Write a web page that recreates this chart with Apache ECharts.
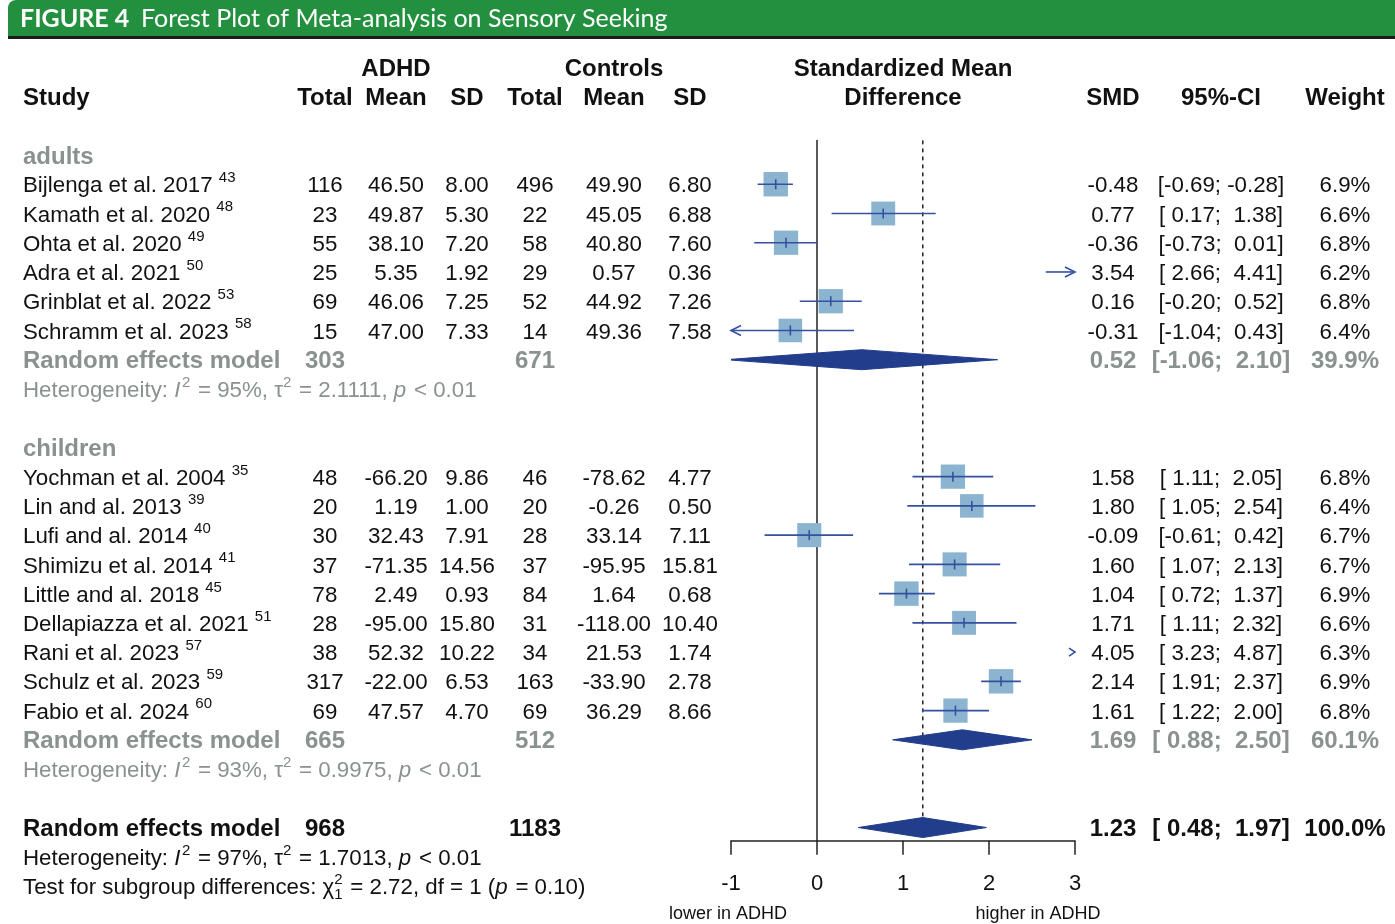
<!DOCTYPE html>
<html>
<head>
<meta charset="utf-8">
<script src="https://cdn.jsdelivr.net/npm/echarts@6/dist/echarts.min.js"></script>
<style>
  html, body { margin: 0; padding: 0; background: #fff; }
  #chart { width: 1395px; height: 924px; }
</style>
</head>
<body>
<div id="chart"></div>
<script>
// study level data
const studyNames = ['Bijlenga et al. 2017', 'Kamath et al. 2020', 'Ohta et al. 2020', 'Adra et al. 2021',
  'Grinblat et al. 2022', 'Schramm et al. 2023', 'Yochman et al. 2004', 'Lin and al. 2013', 'Lufi and al. 2014',
  'Shimizu et al. 2014', 'Little and al. 2018', 'Dellapiazza et al. 2021', 'Rani et al. 2023',
  'Schulz et al. 2023', 'Fabio et al. 2024'];
const studyRefs = ['43', '48', '49', '50', '53', '58', '35', '39', '40', '41', '45', '51', '57', '59', '60'];
const adhdN = [116, 23, 55, 25, 69, 15, 48, 20, 30, 37, 78, 28, 38, 317, 69];
const adhdMean = [46.50, 49.87, 38.10, 5.35, 46.06, 47.00, -66.20, 1.19, 32.43, -71.35, 2.49, -95.00, 52.32, -22.00, 47.57];
const adhdSD = [8.00, 5.30, 7.20, 1.92, 7.25, 7.33, 9.86, 1.00, 7.91, 14.56, 0.93, 15.80, 10.22, 6.53, 4.70];
const ctlN = [496, 22, 58, 29, 52, 14, 46, 20, 28, 37, 84, 31, 34, 163, 69];
const ctlMean = [49.90, 45.05, 40.80, 0.57, 44.92, 49.36, -78.62, -0.26, 33.14, -95.95, 1.64, -118.00, 21.53, -33.90, 36.29];
const ctlSD = [6.80, 6.88, 7.60, 0.36, 7.26, 7.58, 4.77, 0.50, 7.11, 15.81, 0.68, 10.40, 1.74, 2.78, 8.66];
const smd = [-0.48, 0.77, -0.36, 3.54, 0.16, -0.31, 1.58, 1.80, -0.09, 1.60, 1.04, 1.71, 4.05, 2.14, 1.61];
const ciLow = [-0.69, 0.17, -0.73, 2.66, -0.20, -1.04, 1.11, 1.05, -0.61, 1.07, 0.72, 1.11, 3.23, 1.91, 1.22];
const ciHigh = [-0.28, 1.38, 0.01, 4.41, 0.52, 0.43, 2.05, 2.54, 0.42, 2.13, 1.37, 2.32, 4.87, 2.37, 2.00];
const weight = [6.9, 6.6, 6.8, 6.2, 6.8, 6.4, 6.8, 6.4, 6.7, 6.7, 6.9, 6.6, 6.3, 6.9, 6.8];

// subgroups + overall (last entry)
const groupNames = ['adults', 'children'];
const groupSizes = [6, 9];
const pooledN1 = [303, 665, 968];
const pooledN2 = [671, 512, 1183];
const pooledSMD = [0.52, 1.69, 1.23];
const pooledLow = [-1.06, 0.88, 0.48];
const pooledHigh = [2.10, 2.50, 1.97];
const pooledWeight = [39.9, 60.1, 100.0];
const hetI2 = [95, 93, 97];
const hetTau2 = ['2.1111', '0.9975', '1.7013'];
const hetP = ['< 0.01', '< 0.01', '< 0.01'];
const subgroupChi2 = '2.72', subgroupDf = 1, subgroupP = '0.10';

const xTicks = [-1, 0, 1, 2, 3];
const axisNotes = ['lower in ADHD', 'higher in ADHD'];

// styles
const FONT = 'Liberation Sans';
const BLACK = '#111';
const GRAY = '#8a9290';
const BOX_COLOR = '#8ab4cf';
const CI_COLOR = '#3451a0';
const DIAMOND_COLOR = '#213d8c';
const BOX_K = 9.3;       // square side = BOX_K * sqrt(weight)
const DIAMOND_H = 10;    // half height of diamonds
const TEXT_DY = 2;       // text sits a touch below row centre
const COL = { study: 23, n1: 325, mean1: 396, sd1: 467, n2: 535, mean2: 614, sd2: 690,
  plot: 903, smd: 1113, ci: 1221, w: 1345 };

const measureCtx = document.createElement('canvas').getContext('2d');
function textW(t, size, bold, italic) {
  measureCtx.font = (italic ? 'italic ' : '') + (bold ? 'bold ' : '') + size + 'px "' + FONT + '"';
  return measureCtx.measureText(t).width;
}

const f2 = v => v.toFixed(2);
const pad5 = v => { let s = v.toFixed(2); while (s.length < 5) s = ' ' + s; return s; };
const fmtCI = (lo, hi) => '[' + pad5(lo) + '; ' + pad5(hi) + ']';
const cell = (x, t, extra) => Object.assign({ x: x, align: 'center', segs: [{ t: t }] }, extra || {});
const hetSegs = i => [
  { t: 'Heterogeneity: ' }, { t: 'I', italic: true }, { t: '2', small: true, sup: true },
  { t: ' = ' + hetI2[i] + '%, ' }, { t: 'τ' }, { t: '2', small: true, sup: true },
  { t: ' = ' + hetTau2[i] + ', ' }, { t: 'p', italic: true }, { t: ' ' + hetP[i] }
];

// build table rows, study marks and diamonds
const tableRows = [];
const studyData = [];
const diamondData = [];

tableRows.push({ row: -3, cells: [
  cell(COL.mean1, 'ADHD', { bold: true }), cell(COL.mean2, 'Controls', { bold: true }),
  cell(COL.plot, 'Standardized Mean', { bold: true })
] });
tableRows.push({ row: -2, cells: [
  cell(COL.study, 'Study', { bold: true, align: 'left' }),
  cell(COL.n1, 'Total', { bold: true }), cell(COL.mean1, 'Mean', { bold: true }), cell(COL.sd1, 'SD', { bold: true }),
  cell(COL.n2, 'Total', { bold: true }), cell(COL.mean2, 'Mean', { bold: true }), cell(COL.sd2, 'SD', { bold: true }),
  cell(COL.plot, 'Difference', { bold: true }),
  cell(COL.smd, 'SMD', { bold: true }), cell(COL.ci, '95%-CI', { bold: true }), cell(COL.w, 'Weight', { bold: true })
] });

function pooledRow(row, i, color) {
  tableRows.push({ row: row, cells: [
    cell(COL.study, 'Random effects model', { bold: true, align: 'left', color: color }),
    cell(COL.n1, String(pooledN1[i]), { bold: true, color: color }),
    cell(COL.n2, String(pooledN2[i]), { bold: true, color: color }),
    cell(COL.smd, f2(pooledSMD[i]), { bold: true, color: color }),
    cell(COL.ci, fmtCI(pooledLow[i], pooledHigh[i]), { bold: true, color: color }),
    cell(COL.w, pooledWeight[i].toFixed(1) + '%', { bold: true, color: color })
  ] });
  diamondData.push([pooledSMD[i], row, pooledLow[i], pooledHigh[i]]);
}

let r = 0, k = 0;
groupNames.forEach((g, gi) => {
  tableRows.push({ row: r, cells: [cell(COL.study, g, { bold: true, align: 'left', color: GRAY })] });
  r++;
  for (let j = 0; j < groupSizes[gi]; j++, k++, r++) {
    tableRows.push({ row: r, cells: [
      { x: COL.study, align: 'left', segs: [{ t: studyNames[k] + ' ' }, { t: studyRefs[k], small: true, sup: true }] },
      cell(COL.n1, String(adhdN[k])), cell(COL.mean1, f2(adhdMean[k])), cell(COL.sd1, f2(adhdSD[k])),
      cell(COL.n2, String(ctlN[k])), cell(COL.mean2, f2(ctlMean[k])), cell(COL.sd2, f2(ctlSD[k])),
      cell(COL.smd, f2(smd[k])), cell(COL.ci, fmtCI(ciLow[k], ciHigh[k])), cell(COL.w, weight[k].toFixed(1) + '%')
    ] });
    studyData.push([smd[k], r, ciLow[k], ciHigh[k], weight[k]]);
  }
  pooledRow(r, gi, GRAY);
  r++;
  tableRows.push({ row: r, cells: [{ x: COL.study, align: 'left', color: GRAY, segs: hetSegs(gi) }] });
  r += 2;
});
const overallRow = r;
pooledRow(overallRow, 2, BLACK);
tableRows.push({ row: overallRow + 1, cells: [{ x: COL.study, align: 'left', segs: hetSegs(2) }] });
tableRows.push({ row: overallRow + 2, cells: [{ x: COL.study, align: 'left', segs: [
  { t: 'Test for subgroup differences: ' }, { t: 'χ' }, { t: '2', small: true, sup: true, stay: true },
  { t: String(subgroupDf), small: true, sub: true }, { t: ' = ' + subgroupChi2 + ', df = ' + subgroupDf + ' (' },
  { t: 'p', italic: true }, { t: ' = ' + subgroupP + ')' }
] }] });
tableRows.push({ row: overallRow + 2.9, cells: [
  cell(728, axisNotes[0], { size: 18 }), cell(1038, axisNotes[1], { size: 18 })
] });

function runText(c, y) {
  const size = c.size || (c.bold ? 24 : 22.3);
  const small = Math.round(size * 0.68);
  // plotmath leaves a little air after scripts and italics
  const widths = c.segs.map(s => s.stay ? 0 :
    textW(s.t, s.small ? small : size, c.bold, s.italic) + ((s.small || s.italic) && c.segs.length > 2 ? 1.5 : 0));
  const total = widths.reduce((a, b) => a + b, 0);
  let x = c.align === 'center' ? c.x - total / 2 : c.x;
  return c.segs.map((s, i) => {
    const dy = s.sup ? -0.37 * size : (s.sub ? 0.3 * size : 0);
    const el = {
      type: 'text', x: x, y: y + TEXT_DY + dy,
      style: {
        text: s.t, fontFamily: FONT, fontSize: s.small ? small : size,
        fontWeight: c.bold ? 'bold' : 'normal', fontStyle: s.italic ? 'italic' : 'normal',
        fill: c.color || BLACK, align: 'left', verticalAlign: 'middle'
      }
    };
    x += widths[i];
    return el;
  });
}

function renderTable(params, api) {
  const row = tableRows[params.dataIndex];
  const y = api.coord([0, api.value(1)])[1];
  let kids = [];
  row.cells.forEach(c => { kids = kids.concat(runText(c, y)); });
  return { type: 'group', children: kids };
}

function renderStudy(params, api) {
  const est = api.value(0), row = api.value(1), lo = api.value(2), hi = api.value(3), w = api.value(4);
  const xMin = xTicks[0], xMax = xTicks[xTicks.length - 1];
  const y = api.coord([0, row])[1];
  const px = v => api.coord([v, row])[0];
  const ln = { stroke: CI_COLOR, lineWidth: 1.6, fill: null };
  const kids = [];
  if (lo > xMax) {
    const x = px(xMax);
    kids.push({ type: 'polyline', shape: { points: [[x - 6, y - 4], [x, y], [x - 6, y + 4]] }, style: ln });
    return { type: 'group', children: kids };
  }
  const inside = est >= xMin && est <= xMax;
  if (inside) {
    const s = BOX_K * Math.sqrt(w), cx = px(est);
    kids.push({ type: 'rect', shape: { x: cx - s / 2, y: y - s / 2, width: s, height: s }, style: { fill: BOX_COLOR } });
  }
  const x1 = px(Math.max(lo, xMin)), x2 = px(Math.min(hi, xMax));
  kids.push({ type: 'line', shape: { x1: x1, y1: y, x2: x2, y2: y }, style: ln });
  if (lo < xMin) kids.push({ type: 'polyline', shape: { points: [[x1 + 10, y - 5], [x1, y], [x1 + 10, y + 5]] }, style: ln });
  if (hi > xMax) kids.push({ type: 'polyline', shape: { points: [[x2 - 10, y - 5], [x2, y], [x2 - 10, y + 5]] }, style: ln });
  if (inside) {
    const cx = px(est);
    kids.push({ type: 'line', shape: { x1: cx, y1: y - 5, x2: cx, y2: y + 5 }, style: ln });
  }
  return { type: 'group', children: kids };
}

function renderDiamond(params, api) {
  const est = api.value(0), row = api.value(1), lo = api.value(2), hi = api.value(3);
  const y = api.coord([0, row])[1];
  const px = v => api.coord([v, row])[0];
  return {
    type: 'polygon',
    shape: { points: [[px(lo), y], [px(est), y - DIAMOND_H], [px(hi), y], [px(est), y + DIAMOND_H]] },
    style: { fill: DIAMOND_COLOR, stroke: DIAMOND_COLOR, lineWidth: 1 }
  };
}

const chart = echarts.init(document.getElementById('chart'));
chart.setOption({
  animation: false,
  backgroundColor: '#fff',
  grid: { left: 731, right: 320, top: 140.4, bottom: 83.3, outerBoundsMode: 'none' },
  xAxis: {
    type: 'value', min: xTicks[0], max: xTicks[xTicks.length - 1], interval: 1,
    axisLine: { show: true, onZero: false, lineStyle: { color: '#222', width: 1.5 } },
    axisTick: { show: true, inside: false, length: 14, lineStyle: { color: '#222', width: 1.5 } },
    axisLabel: { fontSize: 22, color: BLACK, fontFamily: FONT, margin: 32 },
    splitLine: { show: false }
  },
  yAxis: {
    type: 'value', inverse: true, min: -0.5, max: 23.45,
    axisLine: { show: true, onZero: true, lineStyle: { color: '#222', width: 1.5 } },
    axisTick: { show: false }, axisLabel: { show: false }, splitLine: { show: false }
  },
  graphic: [
    { type: 'rect', shape: { x: 8, y: 0, width: 1387, height: 37, r: [8, 0, 0, 0] }, style: { fill: '#23903f' } },
    { type: 'rect', shape: { x: 8, y: 36, width: 1387, height: 3 }, style: { fill: '#1c1c1c' } },
    { type: 'text', x: 20, y: 19, style: { text: 'FIGURE 4', fontFamily: 'Lato', fontWeight: 'bold', fontSize: 25, fill: '#fff', verticalAlign: 'middle' } },
    { type: 'text', x: 141, y: 19, style: { text: 'Forest Plot of Meta-analysis on Sensory Seeking', fontFamily: 'Lato', fontSize: 25, fill: '#fff', verticalAlign: 'middle' } }
  ],
  series: [
    {
      type: 'line', silent: true, symbol: 'none', z: 1,
      data: [[pooledSMD[2], -0.5], [pooledSMD[2], overallRow - DIAMOND_H / 29.24]],
      lineStyle: { color: '#222', width: 1.5, type: [4, 4] }
    },
    { type: 'custom', name: 'studies', renderItem: renderStudy, data: studyData, z: 3 },
    { type: 'custom', name: 'pooled', renderItem: renderDiamond, data: diamondData, clip: true, z: 4 },
    { type: 'custom', name: 'table', renderItem: renderTable, data: tableRows.map(t => [0, t.row]), z: 5, silent: true }
  ]
});
</script>
</body>
</html>
